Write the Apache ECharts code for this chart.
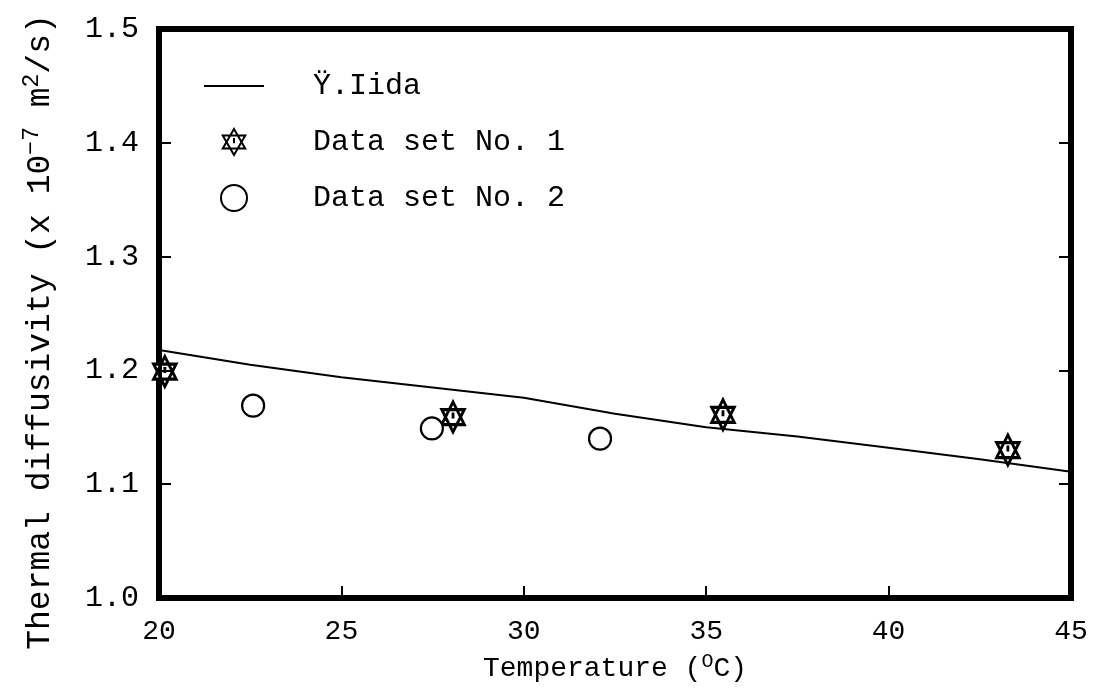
<!DOCTYPE html>
<html>
<head>
<meta charset="utf-8">
<script src="https://cdn.jsdelivr.net/npm/echarts@6/dist/echarts.min.js"></script>
<style>html,body{margin:0;padding:0;background:#fff}#c{width:1102px;height:688px}</style>
</head>
<body>
<div id="c"></div>
<script>
// Data
var iidaT = [20, 22.5, 25, 27.5, 30, 32.5, 35, 37.5, 40, 42.5, 45];
var iidaD = [1.218, 1.205, 1.194, 1.185, 1.176, 1.162, 1.150, 1.142, 1.132, 1.122, 1.111];
var set1T = [20.16, 28.06, 35.46, 43.27];
var set1D = [1.199, 1.159, 1.161, 1.130];
var set2T = [22.58, 27.48, 32.09];
var set2D = [1.169, 1.149, 1.140];
var seriesNames = ['\u0178.Iida', 'Data set No. 1', 'Data set No. 2'];
var xTicks = [20, 25, 30, 35, 40, 45];
var yTicks = [1.0, 1.1, 1.2, 1.3, 1.4, 1.5];

function zip(a, b) { return a.map(function (v, i) { return [v, b[i]]; }); }

var FONT = '"Liberation Mono", "DejaVu Sans Mono", monospace';
var star = 'path://M0,-10 L8.66,5 L-8.66,5 Z M0,10 L8.66,-5 L-8.66,-5 Z M0,-3 L0,1';

var chart = echarts.init(document.getElementById('c'), null, {renderer: 'canvas'});
chart.setOption({
  backgroundColor: '#fff',
  animation: false,
  grid: {left: 159, right: 31, top: 29, bottom: 90, show: true, borderColor: '#000', borderWidth: 6, backgroundColor: 'transparent'},
  legend: {
    left: 199, top: 66, orient: 'vertical',
    itemWidth: 60, itemHeight: 26, itemGap: 26,
    textStyle: {fontFamily: FONT, fontSize: 30, color: '#000', padding: [0, 0, 0, 44]},
    data: [
      {name: seriesNames[0], icon: 'path://M0,0 L60,0 L60,2 L0,2 Z'},
      {name: seriesNames[1]},
      {name: seriesNames[2]}
    ]
  },
  xAxis: [{
    type: 'value', min: xTicks[0], max: xTicks[xTicks.length - 1], interval: 5,
    axisLine: {show: false}, splitLine: {show: false},
    axisTick: {show: true, inside: true, length: 12, lineStyle: {color: '#000', width: 2}},
    axisLabel: {fontFamily: FONT, fontSize: 28, color: '#000', margin: 20},
    name: '{t|Temperature (}{s|O}{t|C)}', nameLocation: 'middle', nameGap: 54,
    nameTextStyle: {rich: {
      t: {fontFamily: FONT, fontSize: 28, color: '#000', lineHeight: 34, verticalAlign: 'middle'},
      s: {fontFamily: FONT, fontSize: 20, color: '#000', lineHeight: 22, verticalAlign: 'top'}
    }}
  }],
  yAxis: [{
    type: 'value', min: yTicks[0], max: yTicks[yTicks.length - 1], interval: 0.1,
    axisLine: {show: false}, splitLine: {show: false},
    axisTick: {show: true, inside: true, length: 12, lineStyle: {color: '#000', width: 2}},
    axisLabel: {fontFamily: FONT, fontSize: 30, color: '#000', margin: 20,
      formatter: function (v) { return v.toFixed(1); }}
  }, {
    type: 'value', position: 'right', min: yTicks[0], max: yTicks[yTicks.length - 1], interval: 0.1,
    axisLine: {show: false}, splitLine: {show: false},
    axisTick: {show: true, inside: true, length: 12, lineStyle: {color: '#000', width: 2}},
    axisLabel: {show: false}
  }],
  graphic: [{
    type: 'text', x: 40, y: 332, rotation: Math.PI / 2,
    style: {
      text: '{t|Thermal diffusivity (x 10}{s|\u22127}{t| m}{s|2}{t|/s)}',
      align: 'center', verticalAlign: 'middle',
      rich: {
        t: {fontFamily: FONT, fontSize: 33, fill: '#000', lineHeight: 40, verticalAlign: 'middle'},
        s: {fontFamily: FONT, fontSize: 23, fill: '#000', lineHeight: 24, verticalAlign: 'top'}
      }
    }
  }],
  series: [{
    name: seriesNames[0], type: 'line', data: zip(iidaT, iidaD), symbol: 'none', smooth: false,
    lineStyle: {color: '#000', width: 2}, itemStyle: {color: '#000'}
  }, {
    name: seriesNames[1], type: 'scatter', data: zip(set1T, set1D), symbol: star, symbolSize: [26, 30],
    clip: false, symbolKeepAspect: true,
    itemStyle: {color: '#fff', borderColor: '#000', borderWidth: 3, opacity: 1}
  }, {
    name: seriesNames[2], type: 'scatter', data: zip(set2T, set2D), symbol: 'circle', symbolSize: 22,
    clip: false,
    itemStyle: {color: '#fff', borderColor: '#000', borderWidth: 2.2, opacity: 1}
  }]
});
</script>
</body>
</html>
